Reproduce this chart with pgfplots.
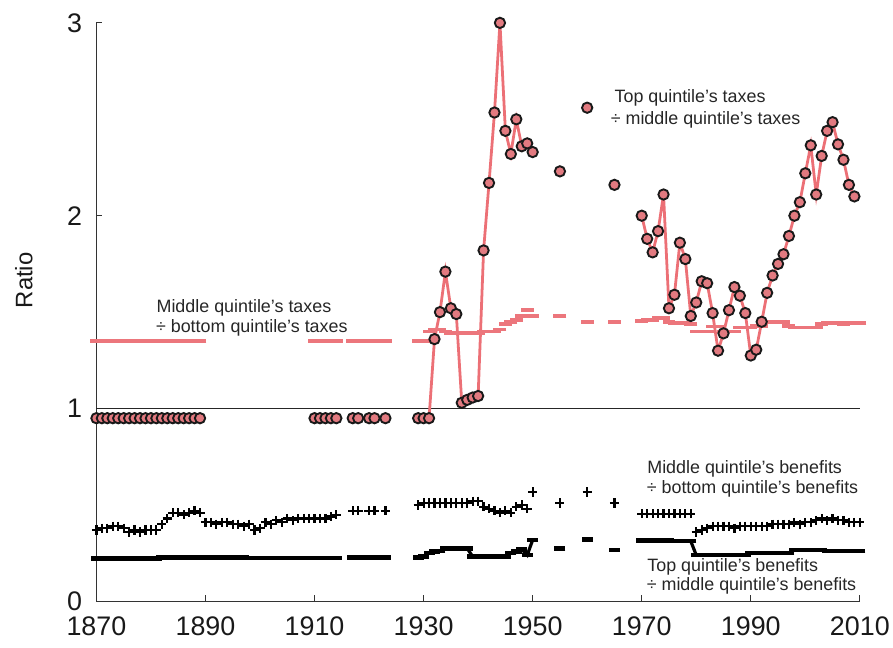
\documentclass[border=0pt]{standalone}
\usepackage{fontspec}
\setmainfont{Liberation Sans}
\usepackage{pgfplots}
\usepackage{pgfplotstable}
\pgfplotsset{compat=1.18}
\definecolor{pinkline}{RGB}{236,112,118}
\definecolor{pinkfill}{RGB}{226,122,128}
\definecolor{pinkdash}{RGB}{236,118,124}

% Top quintile's taxes / middle quintile's taxes (circles)
\pgfplotstableread{
year val
1870 0.95
1871 0.95
1872 0.95
1873 0.95
1874 0.95
1875 0.95
1876 0.95
1877 0.95
1878 0.95
1879 0.95
1880 0.95
1881 0.95
1882 0.95
1883 0.95
1884 0.95
1885 0.95
1886 0.95
1887 0.95
1888 0.95
1889 0.95
1890 nan
1910 0.95
1911 0.95
1912 0.95
1913 0.95
1914 0.95
1915 nan
1917 0.95
1918 0.95
1919 nan
1920 0.95
1921 0.95
1922 nan
1923 0.95
1924 nan
1929 0.95
1930 0.95
1931 0.95
1932 1.36
1933 1.50
1934 1.71
1935 1.52
1936 1.49
1937 1.03
1938 1.045
1939 1.057
1940 1.065
1941 1.82
1942 2.17
1943 2.535
1944 3.0
1945 2.44
1946 2.32
1947 2.50
1948 2.36
1949 2.375
1950 2.33
1951 nan
1955 2.23
1956 nan
1960 2.56
1961 nan
1965 2.16
1966 nan
1970 2.0
1971 1.88
1972 1.81
1973 1.92
1974 2.11
1975 1.52
1976 1.59
1977 1.86
1978 1.775
1979 1.48
1980 1.55
1981 1.66
1982 1.65
1983 1.495
1984 1.30
1985 1.39
1986 1.51
1987 1.63
1988 1.585
1989 1.495
1990 1.275
1991 1.305
1992 1.45
1993 1.60
1994 1.69
1995 1.75
1996 1.80
1997 1.895
1998 2.0
1999 2.07
2000 2.22
2001 2.365
2002 2.11
2003 2.31
2004 2.44
2005 2.485
2006 2.37
2007 2.29
2008 2.16
2009 2.10
}\toptax

% Middle quintile's taxes / bottom quintile's taxes (pink dashes)
\pgfplotstableread{
year val
1870 1.35
1871 1.35
1872 1.35
1873 1.35
1874 1.35
1875 1.35
1876 1.35
1877 1.35
1878 1.35
1879 1.35
1880 1.35
1881 1.35
1882 1.35
1883 1.35
1884 1.35
1885 1.35
1886 1.35
1887 1.35
1888 1.35
1889 1.35
1910 1.35
1911 1.35
1912 1.35
1913 1.35
1914 1.35
1917 1.35
1918 1.35
1919 1.35
1920 1.35
1921 1.35
1922 1.35
1923 1.35
1929 1.35
1930 1.35
1931 1.40
1932 1.41
1933 1.41
1934 1.40
1935 1.39
1936 1.39
1937 1.39
1938 1.39
1939 1.39
1940 1.39
1941 1.40
1942 1.40
1943 1.40
1944 1.41
1945 1.44
1946 1.45
1947 1.46
1948 1.48
1949 1.51
1950 1.48
1955 1.48
1960 1.45
1965 1.45
1970 1.455
1971 1.46
1972 1.46
1973 1.47
1974 1.47
1975 1.45
1976 1.445
1977 1.445
1978 1.445
1979 1.44
1980 1.40
1981 1.40
1982 1.40
1983 1.425
1984 1.425
1985 1.40
1986 1.40
1987 1.40
1988 1.42
1989 1.42
1990 1.42
1991 1.43
1992 1.43
1993 1.45
1994 1.45
1995 1.45
1996 1.45
1997 1.43
1998 1.42
1999 1.42
2000 1.42
2001 1.42
2002 1.42
2003 1.44
2004 1.445
2005 1.445
2006 1.445
2007 1.44
2008 1.445
2009 1.445
2010 1.445
}\midtax

% Middle quintile's benefits / bottom quintile's benefits (plus)
\pgfplotstableread{
year val
1870 0.37
1871 0.38
1872 0.38
1873 0.39
1874 0.39
1875 0.38
1876 0.36
1877 0.37
1878 0.36
1879 0.37
1880 0.37
1881 0.37
1882 0.40
1883 0.43
1884 0.46
1885 0.46
1886 0.45
1887 0.46
1888 0.47
1889 0.46
1890 0.41
1891 0.41
1892 0.40
1893 0.41
1894 0.41
1895 0.40
1896 0.40
1897 0.39
1898 0.40
1899 0.37
1900 0.38
1901 0.41
1902 0.40
1903 0.42
1904 0.41
1905 0.43
1906 0.42
1907 0.43
1908 0.43
1909 0.43
1910 0.43
1911 0.43
1912 0.43
1913 0.44
1914 0.45
1917 0.47
1918 0.47
1920 0.47
1921 0.47
1923 0.47
1929 0.50
1930 0.51
1931 0.51
1932 0.51
1933 0.51
1934 0.51
1935 0.51
1936 0.51
1937 0.51
1938 0.51
1939 0.52
1940 0.52
1941 0.49
1942 0.48
1943 0.47
1944 0.46
1945 0.47
1946 0.46
1947 0.49
1948 0.50
1949 0.48
1950 0.567
1955 0.51
1960 0.567
1965 0.51
1970 0.455
1971 0.455
1972 0.455
1973 0.455
1974 0.455
1975 0.455
1976 0.455
1977 0.455
1978 0.455
1979 0.455
1980 0.36
1981 0.37
1982 0.38
1983 0.39
1984 0.39
1985 0.39
1986 0.39
1987 0.38
1988 0.39
1989 0.39
1990 0.39
1991 0.39
1992 0.39
1993 0.39
1994 0.40
1995 0.40
1996 0.40
1997 0.40
1998 0.41
1999 0.40
2000 0.41
2001 0.41
2002 0.42
2003 0.43
2004 0.42
2005 0.43
2006 0.42
2007 0.42
2008 0.41
2009 0.41
2010 0.41
}\midben

% Top quintile's benefits / middle quintile's benefits (black line)
\pgfplotstableread{
year val
1870 0.222
1871 0.222
1872 0.222
1873 0.222
1874 0.222
1875 0.222
1876 0.222
1877 0.222
1878 0.222
1879 0.222
1880 0.222
1881 0.222
1882 0.228
1883 0.228
1884 0.228
1885 0.228
1886 0.228
1887 0.228
1888 0.228
1889 0.228
1890 0.228
1891 0.228
1892 0.228
1893 0.228
1894 0.228
1895 0.228
1896 0.228
1897 0.228
1898 0.226
1899 0.226
1900 0.226
1901 0.226
1902 0.226
1903 0.226
1904 0.226
1905 0.226
1906 0.226
1907 0.226
1908 0.226
1909 0.226
1910 0.226
1911 0.226
1912 0.226
1913 0.226
1914 0.226
1915 nan
1917 0.227
1918 0.227
1919 0.227
1920 0.227
1921 0.227
1922 0.227
1923 0.227
1924 nan
1929 0.228
1930 0.232
1931 0.25
1932 0.258
1933 0.262
1934 0.275
1935 0.275
1936 0.275
1937 0.275
1938 0.275
1939 0.232
1940 0.232
1941 0.232
1942 0.232
1943 0.232
1944 0.232
1945 0.232
1946 0.25
1947 0.258
1948 0.27
1949 0.24
1950 0.318
1951 nan
1955 0.275
1956 nan
1960 0.32
1961 nan
1965 0.266
1966 nan
1970 0.315
1971 0.315
1972 0.315
1973 0.315
1974 0.315
1975 0.315
1976 0.312
1977 0.312
1978 0.312
1979 0.312
1980 0.24
1981 0.24
1982 0.24
1983 0.24
1984 0.24
1985 0.24
1986 0.24
1987 0.24
1988 0.24
1989 0.24
1990 0.25
1991 0.25
1992 0.25
1993 0.25
1994 0.25
1995 0.25
1996 0.25
1997 0.25
1998 0.266
1999 0.266
2000 0.266
2001 0.266
2002 0.266
2003 0.266
2004 0.26
2005 0.26
2006 0.26
2007 0.26
2008 0.26
2009 0.26
2010 0.26
}\topben

\begin{document}
\begin{tikzpicture}
\path (-97pt,-46pt) rectangle (796pt,605pt);
\begin{axis}[
  at={(0pt,0pt)}, anchor=south west,
  scale only axis, width=768pt, height=582pt,
  xmin=1870, xmax=2010, ymin=0, ymax=3,
  clip=false,
  axis x line=bottom, axis y line=left,
  axis line style={-, line width=1.4pt, black!80},
  xtick={1870,1890,1910,1930,1950,1970,1990,2010},
  ytick={0,1,2,3},
  tick align=inside, major tick length=6pt,
  tick style={line width=1.2pt, black!80},
  /pgf/number format/assume math mode=true,
  xticklabel style={font=\fontsize{27}{30}\selectfont, /pgf/number format/1000 sep={}, text=black!90},
  yticklabel style={font=\fontsize{27}{30}\selectfont, text=black!90},
  xticklabel shift=12pt,
  yticklabel shift=11pt,
  unbounded coords=jump,
]
\addplot[black!85, line width=1.5pt] coordinates {(1870,1) (2010,1)};

\addplot[only marks, mark=-, mark size=6.5pt, line width=3.8pt, color=pinkdash] table[x=year,y=val] {\midtax};

\addplot[black, line width=3.2pt, mark=-, mark size=5.5pt, mark options={line width=4.4pt}] table[x=year,y=val] {\topben};

\addplot[only marks, mark=+, mark size=4.6pt, line width=2.2pt, black] table[x=year,y=val] {\midben};

\addplot[pinkline, line width=2.8pt, mark=*, mark size=5.2pt, mark options={fill=pinkfill, draw=black!90, line width=1.9pt}] table[x=year,y=val] {\toptax};

\node[rotate=90, anchor=center, font=\fontsize{24}{28}\selectfont, text=black!90] at (axis description cs:-0.095,0.555) {Ratio};

\begin{scope}[every node/.style={anchor=base west, inner sep=0pt, font=\fontsize{18}{21}\selectfont, text=black!85}]
\node at (axis cs:1881.0,1.500) {Middle quintile's taxes};
\node at (axis cs:1880.9,1.392) {÷ bottom quintile's taxes};
\node at (axis cs:1965.0,2.588) {Top quintile's taxes};
\node at (axis cs:1964.3,2.474) {÷ middle quintile's taxes};
\node at (axis cs:1971.0,0.665) {Middle quintile's benefits};
\node at (axis cs:1970.9,0.557) {÷ bottom quintile's benefits};
\node at (axis cs:1971.0,0.155) {Top quintile's benefits};
\node at (axis cs:1970.9,0.057) {÷ middle quintile's benefits};
\end{scope}
\end{axis}
\end{tikzpicture}
\end{document}
